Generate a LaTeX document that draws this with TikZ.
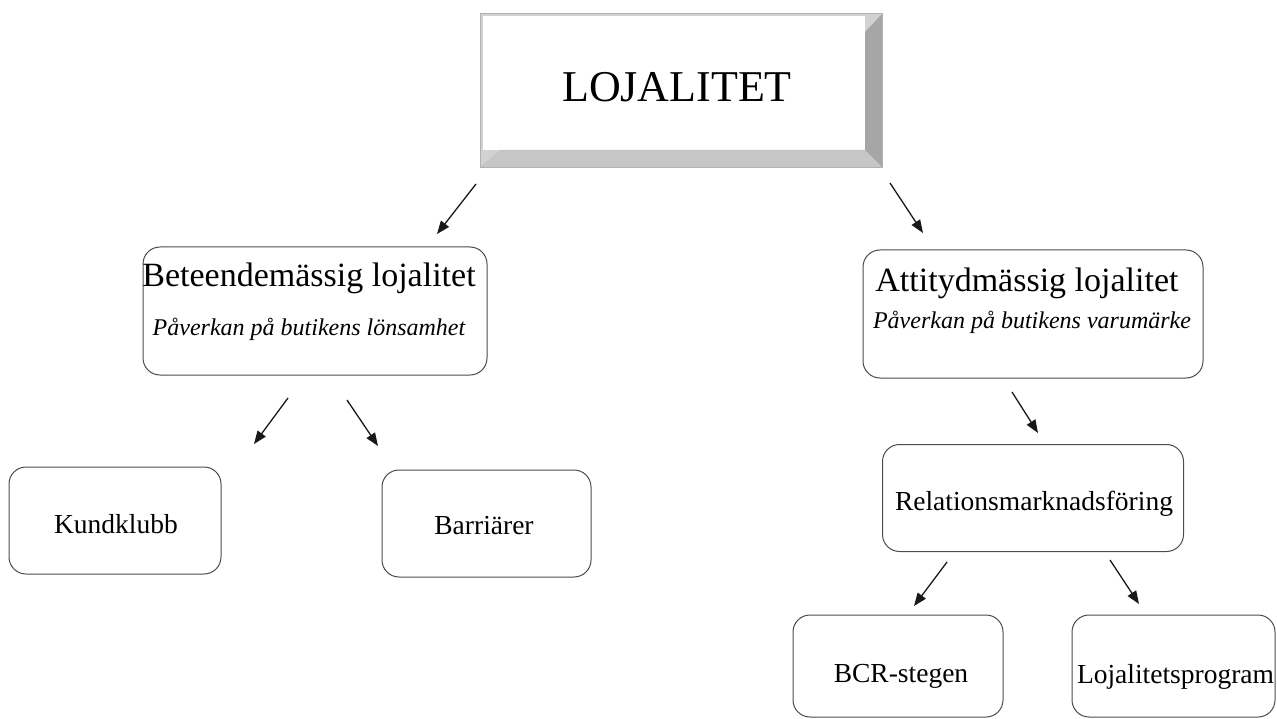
\documentclass[tikz,border=0pt]{standalone}
\usepackage{fontspec}
\setmainfont{Liberation Serif}
\usetikzlibrary{arrows.meta}
\tikzset{
  rbox/.style={draw=black!70, line width=1pt, rounded corners=17pt, fill=white, inner sep=0pt},
  conn/.style={line width=1.3pt, draw=black!90, -{Triangle[length=13pt,width=10pt]}},
  bigtxt/.style={anchor=base, inner sep=0pt, font=\fontsize{44}{48}\selectfont},
  titletxt/.style={anchor=base, inner sep=0pt, font=\fontsize{34}{37}\selectfont},
  subtxt/.style={anchor=base, inner sep=0pt, font=\fontsize{24}{26}\selectfont\itshape},
  leaftxt/.style={anchor=base, inner sep=0pt, font=\fontsize{27.5}{30}\selectfont},
}
\begin{document}
\begin{tikzpicture}[x=1pt,y=-1pt]
\useasboundingbox (0,0) rectangle (1277,719);
% bevel box
\fill[gray!35] (480,13) rectangle (882,167);
\fill[white] (483,16) rectangle (865,150);
\fill[gray!45] (480,167) -- (500,150) -- (865,150) -- (882,167) -- cycle;
\fill[gray!70] (865,32) -- (882,14) -- (882,167) -- (865,150) -- cycle;
\draw[gray!60, line width=0.6pt] (480,13) rectangle (882,167);
\node[bigtxt] (top) at (677,102) {LOJALITET};
% boxes
\node[rbox, minimum width=344pt, minimum height=128pt] (bet) at (315,311) {};
\node[titletxt] (betT) at (309,287) {Beteendemässig lojalitet};
\node[subtxt] (betS) at (309,335) {Påverkan på butikens lönsamhet};
\node[rbox, minimum width=340pt, minimum height=128pt] (att) at (1033,314) {};
\node[titletxt] (attT) at (1027,292) {Attitydmässig lojalitet};
\node[subtxt] (attS) at (1032,328) {Påverkan på butikens varumärke};
\node[rbox, minimum width=212pt, minimum height=107pt] (kund) at (115,520.5) {};
\node[leaftxt] (kundT) at (116,533) {Kundklubb};
\node[rbox, minimum width=209pt, minimum height=107pt] (barr) at (486.5,523.5) {};
\node[leaftxt] (barrT) at (484,534) {Barriärer};
\node[rbox, minimum width=301pt, minimum height=107pt] (rel) at (1033,498) {};
\node[leaftxt] (relT) at (1034,510) {Relationsmarknadsföring};
\node[rbox, minimum width=210pt, minimum height=102pt] (bcr) at (898,666) {};
\node[leaftxt] (bcrT) at (901,682) {BCR-stegen};
\node[rbox, minimum width=203pt, minimum height=102pt] (loj) at (1173.5,666) {};
\node[leaftxt] (lojT) at (1175.5,683) {Lojalitetsprogram};
% arrows
\coordinate (a1s) at (476,184); \coordinate (a1e) at (437,234);
\coordinate (a2s) at (890,183); \coordinate (a2e) at (923,233);
\coordinate (a3s) at (288,398); \coordinate (a3e) at (254,444);
\coordinate (a4s) at (347,400); \coordinate (a4e) at (378,446);
\coordinate (a5s) at (1012,392); \coordinate (a5e) at (1038,433);
\coordinate (a6s) at (947,562); \coordinate (a6e) at (914,606);
\coordinate (a7s) at (1110,560); \coordinate (a7e) at (1139,604);
\draw[conn] (a1s) -- (a1e);
\draw[conn] (a2s) -- (a2e);
\draw[conn] (a3s) -- (a3e);
\draw[conn] (a4s) -- (a4e);
\draw[conn] (a5s) -- (a5e);
\draw[conn] (a6s) -- (a6e);
\draw[conn] (a7s) -- (a7e);
\end{tikzpicture}
\end{document}
